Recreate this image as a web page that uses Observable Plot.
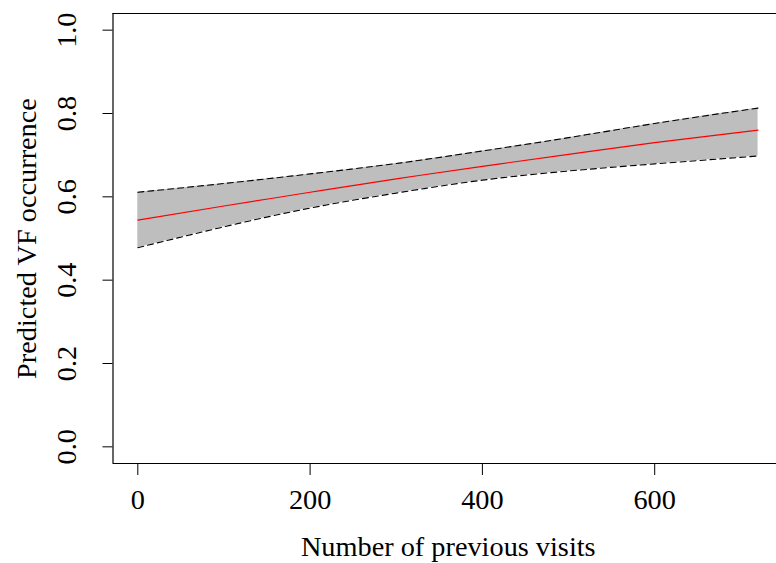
<!DOCTYPE html>
<html>
<head>
<meta charset="utf-8">
<script src="https://cdn.jsdelivr.net/npm/d3@7"></script>
<script src="https://cdn.jsdelivr.net/npm/@observablehq/plot@0.6"></script>
<style>
  html, body { margin: 0; padding: 0; background: #fff; overflow: hidden; }
  svg { display: block; }
</style>
</head>
<body>
<div id="chart"></div>
<script>
// Data
const visits = [0, 100, 200, 300, 400, 500, 600, 720];
const fitted = [0.544, 0.578, 0.611, 0.643, 0.673, 0.702, 0.730, 0.760];
const lower  = [0.478, 0.528, 0.573, 0.609, 0.640, 0.662, 0.679, 0.698];
const upper  = [0.611, 0.632, 0.655, 0.680, 0.710, 0.742, 0.776, 0.813];
const xTicks = [0, 200, 400, 600];
const yTicks = [0, 0.2, 0.4, 0.6, 0.8, 1.0];
const xLabel = "Number of previous visits";
const yLabel = "Predicted VF occurrence";

const data = visits.map((v, i) => ({x: v, fit: fitted[i], lo: lower[i], hi: upper[i]}));

const font = "Liberation Serif, Times New Roman, serif";
const fs = 28.3;

const chart = Plot.plot({
  width: 776,
  height: 563,
  marginLeft: 112.5,
  marginRight: 0,
  marginTop: 13,
  marginBottom: 100,
  style: {fontFamily: font, fontSize: fs + "px", background: "#fff", color: "#000"},
  x: {domain: [-28.8, 741.4], axis: null},
  y: {domain: [-0.04, 1.04], axis: null},
  marks: [
    Plot.areaY(data, {x: "x", y1: "lo", y2: "hi", fill: "#bebebe", curve: "natural"}),
    Plot.line(data, {x: "x", y: "hi", stroke: "#000", strokeWidth: 1.1, strokeDasharray: "6,4", curve: "natural"}),
    Plot.line(data, {x: "x", y: "lo", stroke: "#000", strokeWidth: 1.1, strokeDasharray: "6,4", curve: "natural"}),
    Plot.line(data, {x: "x", y: "fit", stroke: "red", strokeWidth: 1.1, curve: "natural"}),
    // box (top, bottom, left)
    Plot.ruleY([-0.04, 1.04], {stroke: "#000", strokeWidth: 1.2}),
    Plot.ruleX([-28.8], {y1: -0.04, y2: 1.04, stroke: "#000", strokeWidth: 1.2}),
    // ticks
    Plot.axisX({ticks: xTicks, tickSize: 12, tickFormat: () => "", anchor: "bottom", stroke: "#000", label: null}),
    Plot.axisY({ticks: yTicks, tickSize: 10, tickFormat: () => "", anchor: "left", stroke: "#000", label: null}),
    // tick labels
    Plot.text(xTicks, {x: d => d, frameAnchor: "bottom", dy: 45, lineAnchor: "bottom", text: d => String(d), fontSize: fs, fill: "#000"}),
    Plot.text(yTicks, {y: d => d, frameAnchor: "left", dx: -37.5, rotate: -90, lineAnchor: "bottom", textAnchor: "middle", text: d => d.toFixed(1), fontSize: fs, fill: "#000"}),
    // axis titles
    Plot.text([xLabel], {frameAnchor: "bottom", dx: 3.5, dy: 92, lineAnchor: "bottom", text: d => d, fontSize: fs, fill: "#000"}),
    Plot.text([yLabel], {frameAnchor: "left", dx: -77.5, rotate: -90, lineAnchor: "bottom", textAnchor: "middle", text: d => d, fontSize: fs, fill: "#000"})
  ]
});
document.getElementById("chart").appendChild(chart);
</script>
</body>
</html>
